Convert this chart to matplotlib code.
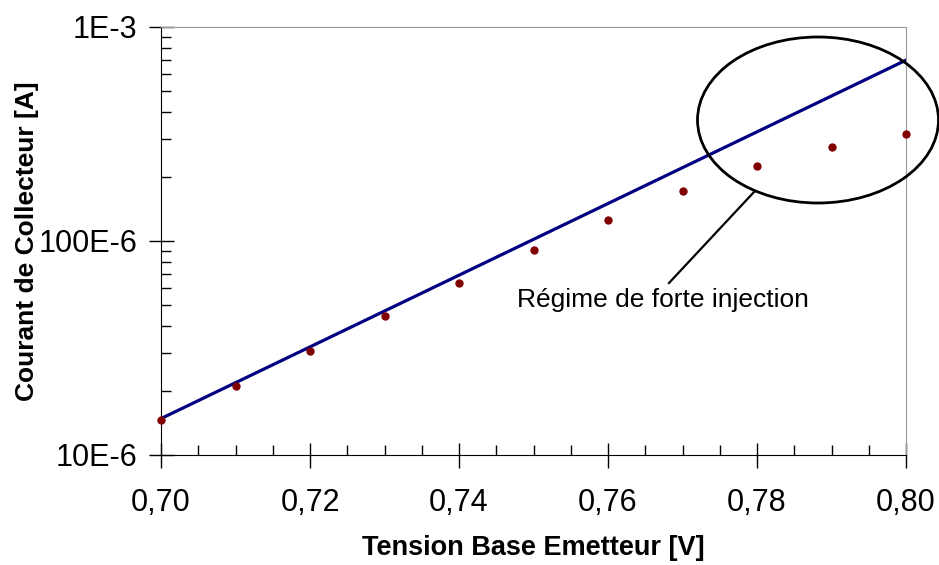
import numpy as np
import matplotlib.pyplot as plt
from matplotlib.patches import Ellipse
from matplotlib.ticker import FixedLocator, MultipleLocator, LogLocator, NullFormatter

plt.rcParams['font.family'] = ['Liberation Sans', 'DejaVu Sans']

# mesures
vbe = [0.70, 0.71, 0.72, 0.73, 0.74, 0.75, 0.76, 0.77, 0.78, 0.79, 0.80]
ic = [14.5e-6, 21.1e-6, 30.7e-6, 44.6e-6, 63.6e-6, 90.8e-6,
      126e-6, 171e-6, 224e-6, 276e-6, 315e-6]

# droite ideale
vbe_fit = [0.70, 0.80]
ic_fit = [14.8e-6, 7.0e-4]

ytick_vals = [1e-5, 1e-4, 1e-3]
ytick_labels = ['10E-6', '100E-6', '1E-3']
xtick_vals = [0.70, 0.72, 0.74, 0.76, 0.78, 0.80]
xtick_labels = ['0,70', '0,72', '0,74', '0,76', '0,78', '0,80']

fig = plt.figure(figsize=(9.39, 5.65), dpi=100)
ax = fig.add_axes([161/939, 1-455/565, 745/939, 428/565])

ax.plot(vbe_fit, ic_fit, color='#000080', lw=2.3, zorder=2)
ax.plot(vbe, ic, 'o', color='#800000', ms=5, zorder=3, clip_on=False)

ax.set_yscale('log')
ax.set_xlim(0.70, 0.80)
ax.set_ylim(1e-5, 1e-3)

ax.yaxis.set_major_locator(FixedLocator(ytick_vals))
ax.set_yticklabels(ytick_labels)
ax.yaxis.set_minor_locator(LogLocator(base=10, subs=np.arange(2, 10)))
ax.yaxis.set_minor_formatter(NullFormatter())
ax.set_xticks(xtick_vals)
ax.set_xticklabels(xtick_labels)
ax.xaxis.set_minor_locator(MultipleLocator(0.005))

ax.tick_params(which='major', direction='inout', length=18, width=1, labelsize=22)
ax.tick_params(axis='x', which='major', pad=15)
ax.tick_params(axis='y', which='major', pad=8)
ax.tick_params(which='minor', direction='in', length=7, width=1)

for s in ['top', 'right']:
    ax.spines[s].set_color('#999999')
for s in ['left', 'bottom']:
    ax.spines[s].set_color('black')

ax.set_xlabel('Tension Base Emetteur [V]', fontsize=19.5, fontweight='bold', va='center')
ax.xaxis.set_label_coords(0.5, -0.217)
ax.set_ylabel('Courant de Collecteur [A]', fontsize=19, fontweight='bold', va='center')
ax.yaxis.set_label_coords(-0.18, 0.5)

# ellipse + annotation (coordonnees figure en pixels)
ell = Ellipse((818, 565-120), 241, 166, transform=None, fill=False,
              edgecolor='black', lw=2, clip_on=False)
fig.patches.append(ell)
fig.add_artist(plt.Line2D([754/939, 669/939], [1-192/565, 1-283/565],
                          color='black', lw=1.6))
fig.text(663/939, 1-300/565, 'Régime de forte injection', fontsize=19,
         ha='center', va='center')

fig.savefig('out.png', dpi=100)
